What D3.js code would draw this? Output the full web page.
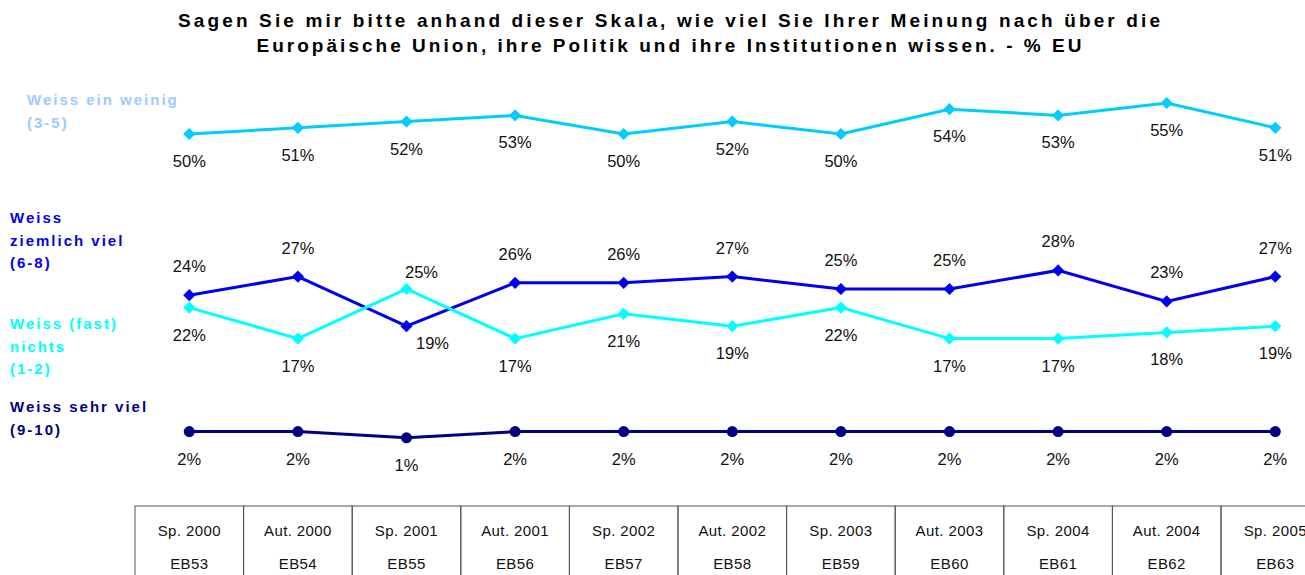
<!DOCTYPE html>
<html>
<head>
<meta charset="utf-8">
<script src="https://cdn.jsdelivr.net/npm/d3@7"></script>
<style>
  body { margin: 0; background: #fff; }
  svg { display: block; font-family: Arial, "Liberation Sans", sans-serif; }
</style>
</head>
<body>
<div id="chart"></div>
<script>
// categorias (columnas de la tabla)
const categories = ["Sp. 2000", "Aut. 2000", "Sp. 2001", "Aut. 2001", "Sp. 2002", "Aut. 2002",
                    "Sp. 2003", "Aut. 2003", "Sp. 2004", "Aut. 2004", "Sp. 2005"];
const waves = ["EB53", "EB54", "EB55", "EB56", "EB57", "EB58", "EB59", "EB60", "EB61", "EB62", "EB63"];

// series (%)
const weissEinWenig = [50, 51, 52, 53, 50, 52, 50, 54, 53, 55, 51];
const weissZiemlichViel = [24, 27, 19, 26, 26, 27, 25, 25, 28, 23, 27];
const weissFastNichts = [22, 17, 25, 17, 21, 19, 22, 17, 17, 18, 19];
const weissSehrViel = [2, 2, 1, 2, 2, 2, 2, 2, 2, 2, 2];

// donde va la etiqueta de cada punto
const posEinWenig = ["below", "below", "below", "below", "below", "below", "below", "below", "below", "below", "below"];
const posZiemlich = ["above", "above", "belowRight", "above", "above", "above", "above", "above", "above", "above", "above"];
const posFast = ["below", "below", "aboveRight", "below", "below", "below", "below", "below", "below", "below", "below"];
const posSehr = ["below", "below", "below", "below", "below", "below", "below", "below", "below", "below", "below"];

const legendLabels = [
    ["Weiss ein weinig", "(3-5)"],
    ["Weiss", "ziemlich viel", "(6-8)"],
    ["Weiss (fast)", "nichts", "(1-2)"],
    ["Weiss sehr viel", "(9-10)"]
];

const titleLines = [
    "Sagen Sie mir bitte anhand dieser Skala, wie viel Sie Ihrer Meinung nach über die",
    "Europäische Union, ihre Politik und ihre Institutionen wissen. - % EU"
];

const WIDTH = 1305;
const HEIGHT = 575;

const svg = d3.select("#chart").append("svg")
    .attr("width", WIDTH)
    .attr("height", HEIGHT);

// escalas
const x = d3.scaleBand()
    .domain(categories)
    .range([135, 135 + 11 * 108.6]);

const y = d3.scaleLinear()
    .domain([0, 55])
    .range([444, 103]);

const cx = d => x(d) + x.bandwidth() / 2;

// titulo (ancho ajustado al original)
const titleWidths = [982, 825];
svg.append("g").selectAll("text")
    .data(titleLines)
    .join("text")
    .attr("x", (d, i) => 669 - titleWidths[i] / 2)
    .attr("y", (d, i) => 27 + i * 25)
    .attr("font-size", 19)
    .attr("font-weight", "bold")
    .attr("textLength", (d, i) => titleWidths[i])
    .attr("lengthAdjust", "spacing")
    .text(d => d);

const series = [
    { values: weissEinWenig, pos: posEinWenig, color: "#00ccff", shape: "diamond",
      legend: legendLabels[0], legendColor: "#99ccff", lx: 27, ly: 105 },
    { values: weissZiemlichViel, pos: posZiemlich, color: "#0000ee", shape: "diamond",
      legend: legendLabels[1], legendColor: "#0000ee", lx: 10, ly: 223 },
    { values: weissFastNichts, pos: posFast, color: "#00ffff", shape: "diamond",
      legend: legendLabels[2], legendColor: "#00ffff", lx: 10, ly: 329 },
    { values: weissSehrViel, pos: posSehr, color: "#000080", shape: "circle",
      legend: legendLabels[3], legendColor: "#000080", lx: 10, ly: 412 }
];

const labelOffset = {
    below: { dx: 0, dy: 33 },
    above: { dx: 0, dy: -23 },
    belowRight: { dx: 26, dy: 23 },
    aboveRight: { dx: 15, dy: -11 }
};

const line = d3.line()
    .x(d => cx(d.cat))
    .y(d => y(d.v));

const diamond = d3.symbol().type(d3.symbolDiamond2).size(95);

series.forEach(s => {
    const pts = s.values.map((v, i) => ({ cat: categories[i], v: v, pos: s.pos[i] }));
    const g = svg.append("g");

    g.append("path")
        .datum(pts)
        .attr("fill", "none")
        .attr("stroke", s.color)
        .attr("stroke-width", 3)
        .attr("d", line);

    if (s.shape === "circle") {
        g.selectAll("circle")
            .data(pts)
            .join("circle")
            .attr("cx", d => cx(d.cat))
            .attr("cy", d => y(d.v))
            .attr("r", 5.5)
            .attr("fill", s.color);
    } else {
        g.selectAll(".mk")
            .data(pts)
            .join("path")
            .attr("class", "mk")
            .attr("transform", d => `translate(${cx(d.cat)},${y(d.v)})`)
            .attr("d", diamond)
            .attr("fill", s.color);
    }

    g.selectAll(".lbl")
        .data(pts)
        .join("text")
        .attr("class", "lbl")
        .attr("x", d => cx(d.cat) + labelOffset[d.pos].dx)
        .attr("y", d => y(d.v) + labelOffset[d.pos].dy)
        .attr("text-anchor", "middle")
        .attr("font-size", 16.5)
        .attr("fill", "#111")
        .text(d => d.v + "%");

    // leyenda a la izquierda
    svg.append("g").selectAll("text")
        .data(s.legend)
        .join("text")
        .attr("x", s.lx)
        .attr("y", (d, i) => s.ly + i * 22.5)
        .attr("font-size", 15)
        .attr("font-weight", "bold")
        .attr("letter-spacing", 2)
        .attr("fill", s.legendColor)
        .text(d => d);
});

// tabla de abajo
const tabla = svg.append("g");
tabla.selectAll("rect")
    .data(categories)
    .join("rect")
    .attr("x", d => x(d))
    .attr("y", 506)
    .attr("width", x.bandwidth())
    .attr("height", 100)
    .attr("fill", "none")
    .attr("stroke", "#555")
    .attr("stroke-width", 1);

tabla.selectAll(".cat")
    .data(categories)
    .join("text")
    .attr("class", "cat")
    .attr("x", d => cx(d))
    .attr("y", 536)
    .attr("text-anchor", "middle")
    .attr("font-size", 15)
    .attr("letter-spacing", 0.4)
    .attr("fill", "#111")
    .text(d => d);

tabla.selectAll(".eb")
    .data(waves)
    .join("text")
    .attr("class", "eb")
    .attr("x", (d, i) => cx(categories[i]))
    .attr("y", 569)
    .attr("text-anchor", "middle")
    .attr("font-size", 15)
    .attr("letter-spacing", 0.4)
    .attr("fill", "#111")
    .text(d => d);
</script>
</body>
</html>
